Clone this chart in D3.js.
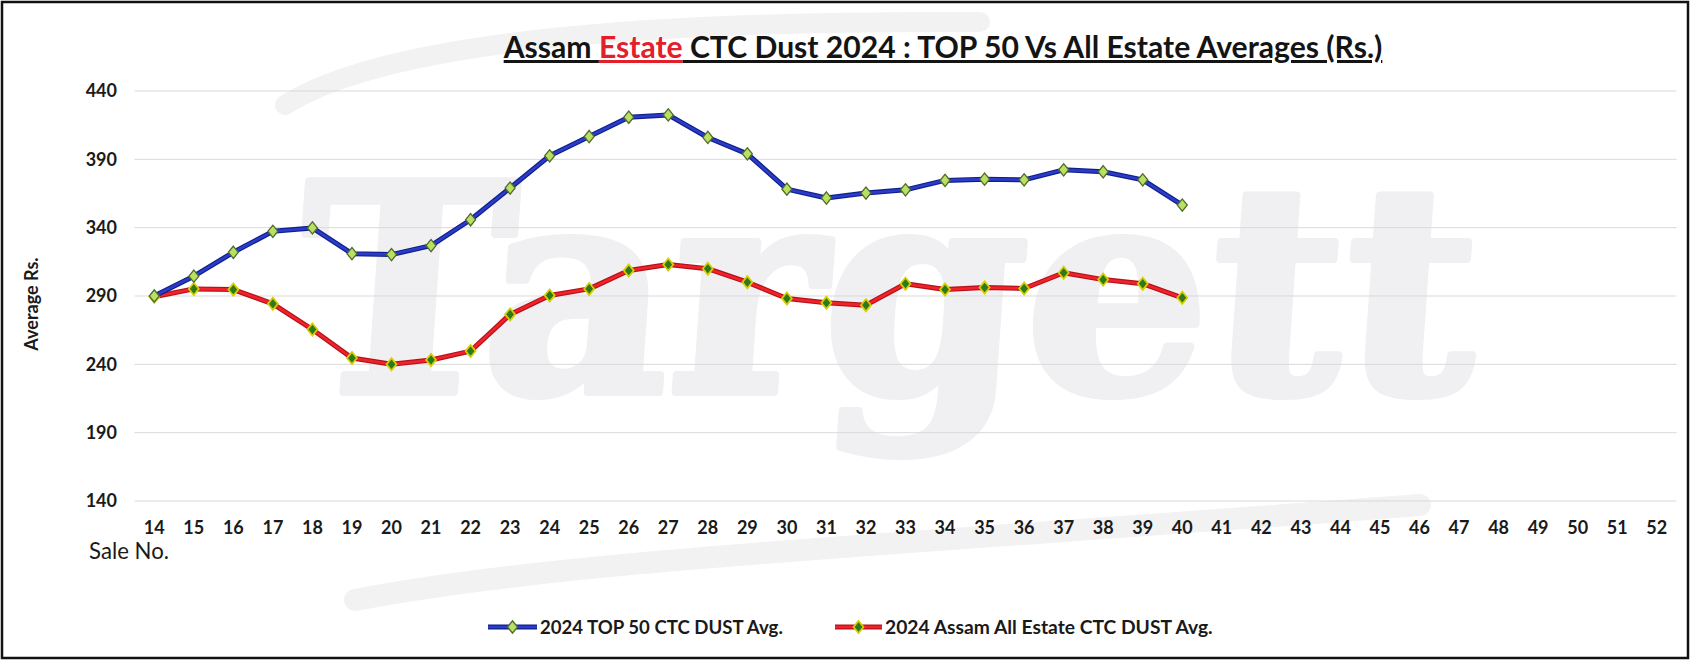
<!DOCTYPE html>
<html>
<head>
<meta charset="utf-8">
<script src="https://cdn.jsdelivr.net/npm/d3@7"></script>
<style>
  body { margin: 0; background: #fff; }
  svg { display: block; }
</style>
</head>
<body>
<svg id="chart" width="1693" height="661"></svg>
<script>
// sale numbers on the x axis
var saleNos = [14,15,16,17,18,19,20,21,22,23,24,25,26,27,28,29,30,31,32,33,34,35,36,37,38,39,40,
  41,42,43,44,45,46,47,48,49,50,51,52];

// averages, sales 14..40
var top50 = [290,304.5,322,337.3,339.8,321,320.3,326.9,345.8,369,392.6,406.7,420.8,422.5,406,394,
  368.2,361.7,365.3,367.7,374.6,375.5,375,382.3,380.9,375,356.5];
var allEstate = [289.5,295.2,294.7,284.3,265.5,244.6,240,243.2,249.7,276.5,290.4,295.2,308.6,313,
  310,300.1,288.2,285,283.3,299,294.7,296.2,295.5,307,302,299,288.7];

var yTicks = [140,190,240,290,340,390,440];

var seriesNames = ["2024 TOP 50 CTC DUST Avg.", "2024 Assam All Estate CTC DUST Avg."];

var svg = d3.select("#chart");
var font = "Lato, 'Open Sans', sans-serif";

// fit a text element to a given width by changing its font size
function fitWidth(sel, target) {
  var len = sel.node().getComputedTextLength();
  var fs = parseFloat(sel.attr("font-size"));
  sel.attr("font-size", fs * target / len);
}

////// watermark
var wm = svg.append("g").attr("class", "watermark");
wm.append("path")
  .attr("d", "M285,105 C380,45 620,20 980,22")
  .attr("fill", "none").attr("stroke", "#f2f2f2").attr("stroke-width", 20).attr("stroke-linecap", "round");
wm.append("path")
  .attr("d", "M355,600 C560,560 900,545 1420,505")
  .attr("fill", "none").attr("stroke", "#f2f2f2").attr("stroke-width", 22).attr("stroke-linecap", "round");
var wmText = wm.append("text")
  .attr("x", 0).attr("y", 0)
  .attr("transform", "translate(291,392) skewX(-4)")
  .attr("font-family", "'DejaVu Serif', serif")
  .attr("font-weight", "bold")
  .attr("font-size", 300)
  .attr("fill", "#f0f0f2")
  .attr("stroke", "#f0f0f2")
  .attr("stroke-width", 8)
  .attr("stroke-linejoin", "round")
  .text("Targett");
fitWidth(wmText, 1180);

////// scales
var x = d3.scaleBand().domain(saleNos).range([134.5, 1676.5]);
var y = d3.scaleLinear().domain([140, 440]).range([501, 91]);
var cx = function(d) { return x(d) + x.bandwidth() / 2; };

// gridlines
svg.append("g")
  .selectAll("line")
  .data(yTicks)
  .enter()
  .append("line")
  .attr("x1", x.range()[0]).attr("x2", x.range()[1])
  .attr("y1", d => y(d)).attr("y2", d => y(d))
  .attr("stroke", "#d9d9d9")
  .attr("stroke-width", 1);

// y axis labels
var yAxis = svg.append("g")
  .attr("transform", "translate(117,0)")
  .call(d3.axisLeft(y).tickValues(yTicks).tickSize(0).tickPadding(0));
yAxis.select(".domain").remove();
yAxis.selectAll("text")
  .attr("font-family", font).attr("font-size", 18).attr("font-weight", "bold").attr("fill", "#1a1a1a");

// x axis labels
var xAxis = svg.append("g")
  .attr("transform", "translate(0,521)")
  .call(d3.axisBottom(x).tickSize(0).tickPadding(0));
xAxis.select(".domain").remove();
xAxis.selectAll("text")
  .attr("font-family", font).attr("font-size", 18).attr("font-weight", "bold").attr("fill", "#1a1a1a");

// axis titles
svg.append("text")
  .attr("transform", "translate(38,304) rotate(-90)")
  .attr("text-anchor", "middle")
  .attr("font-family", font).attr("font-size", 18).attr("font-weight", "bold").attr("fill", "#1a1a1a")
  .text("Average Rs.");

var xTitle = svg.append("text")
  .attr("x", 89).attr("y", 559)
  .attr("font-family", font).attr("font-size", 19).attr("fill", "#1a1a1a")
  .text("Sale No.");
fitWidth(xTitle, 80);

////// title
var title = svg.append("text")
  .attr("x", 943).attr("y", 58)
  .attr("text-anchor", "middle")
  .attr("font-family", font).attr("font-size", 28).attr("font-weight", "bold")
  .attr("fill", "#141414");
title.append("tspan").attr("text-decoration", "underline").text("Assam ");
title.append("tspan").attr("text-decoration", "underline").attr("fill", "#e3202a").text("Estate");
title.append("tspan").attr("text-decoration", "underline").text(" CTC Dust 2024 : TOP 50 Vs All Estate Averages (Rs.)");
fitWidth(title, 879);

////// lines
var styles = [
  { under: "#101f8c", top: "#2a3cc8", mFill: "#b9e063", mStroke: "#4f6b2a", mWidth: 1.2 },
  { under: "#b3121a", top: "#f2222a", mFill: "#2c7a1c", mStroke: "#d9cf00", mWidth: 1.6 }
];
var seriesData = [top50, allEstate];

var line = d3.line()
  .x((d, i) => cx(saleNos[i]))
  .y(d => y(d));

var diamond = d3.symbol().type(d3.symbolDiamond).size(60);
var mScale = " scale(1.2,0.85)";

seriesData.slice().reverse().forEach(function(vals, k) {
  var s = styles[1 - k];
  var g = svg.append("g");
  g.append("path").datum(vals).attr("d", line)
    .attr("fill", "none").attr("stroke", s.under).attr("stroke-width", 5).attr("stroke-linejoin", "round");
  g.append("path").datum(vals).attr("d", line)
    .attr("fill", "none").attr("stroke", s.top).attr("stroke-width", 2.6).attr("stroke-linejoin", "round");
  g.selectAll(".m")
    .data(vals)
    .enter()
    .append("path")
    .attr("transform", (d, i) => "translate(" + cx(saleNos[i]) + "," + y(d) + ")" + mScale)
    .attr("d", diamond)
    .attr("fill", s.mFill)
    .attr("stroke", s.mStroke)
    .attr("stroke-width", s.mWidth);
});

////// legend
var legendPos = [{ x1: 488, x2: 537, tx: 540, tw: 243 }, { x1: 835, x2: 882, tx: 885, tw: 328 }];
var ly = 627;
seriesNames.forEach(function(name, i) {
  var s = styles[i], p = legendPos[i];
  var g = svg.append("g");
  g.append("line").attr("x1", p.x1).attr("x2", p.x2).attr("y1", ly).attr("y2", ly)
    .attr("stroke", s.under).attr("stroke-width", 5);
  g.append("line").attr("x1", p.x1).attr("x2", p.x2).attr("y1", ly).attr("y2", ly)
    .attr("stroke", s.top).attr("stroke-width", 2.6);
  g.append("path")
    .attr("transform", "translate(" + ((p.x1 + p.x2) / 2) + "," + ly + ")" + mScale)
    .attr("d", diamond)
    .attr("fill", s.mFill).attr("stroke", s.mStroke).attr("stroke-width", s.mWidth);
  var t = g.append("text")
    .attr("x", p.tx).attr("y", ly).attr("dy", "0.35em")
    .attr("font-family", font).attr("font-size", 17).attr("font-weight", "bold").attr("fill", "#1a1a1a")
    .text(name);
  fitWidth(t, p.tw);
});

////// frame
svg.append("rect")
  .attr("x", 2).attr("y", 2).attr("width", 1686).attr("height", 656)
  .attr("fill", "none").attr("stroke", "#111").attr("stroke-width", 2.5);
</script>
</body>
</html>
